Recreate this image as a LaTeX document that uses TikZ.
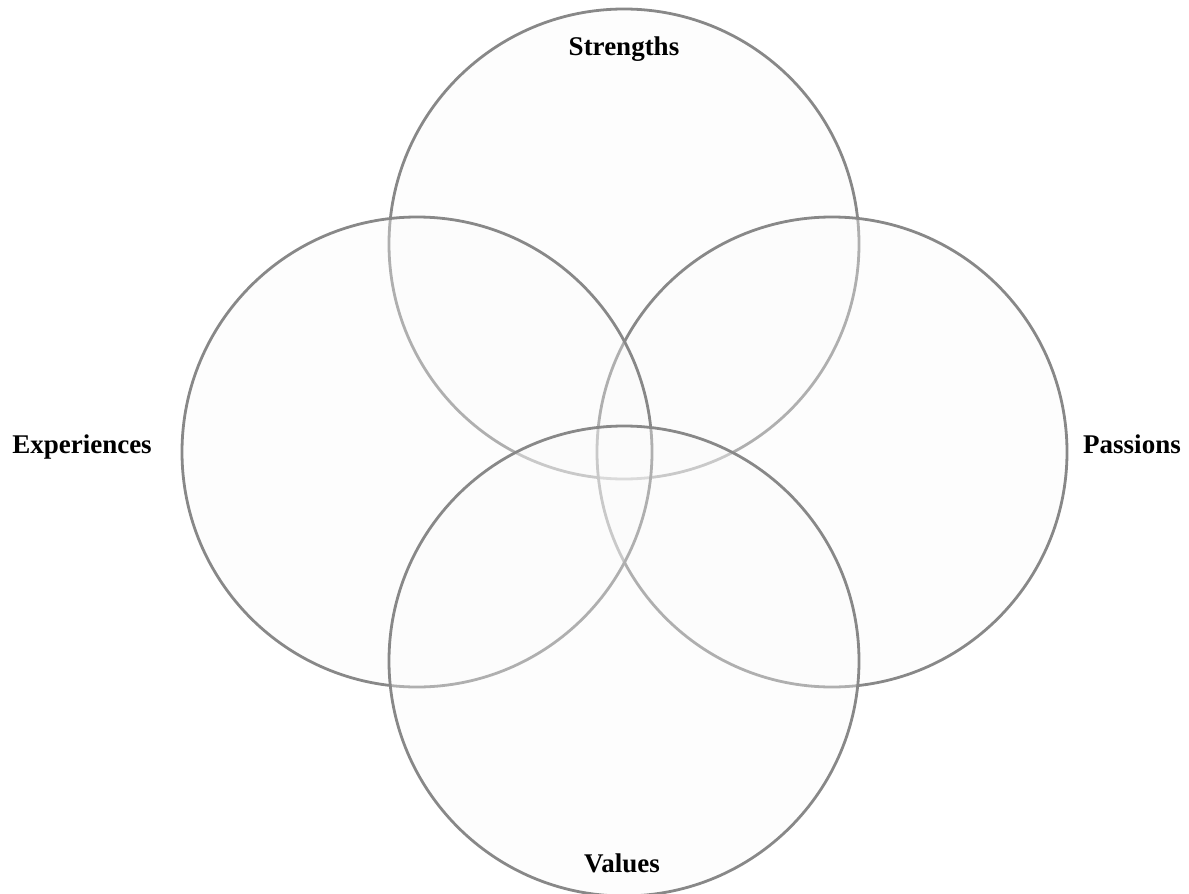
\documentclass[tikz,border=0pt]{standalone}
\usepackage{fontspec}
\setmainfont{Liberation Serif}
\definecolor{ringgray}{HTML}{888888}
\definecolor{ringfill}{HTML}{FAFAFA}
\tikzset{
  ring/.style={circle, inner sep=0pt, minimum size=470pt, line width=2.8pt,
    draw=ringgray, fill=ringfill, fill opacity=0.35},
  lbl/.style={font=\fontsize{27}{30}\selectfont\bfseries, anchor=base, inner sep=0pt}
}
\begin{document}
\begin{tikzpicture}[x=1pt,y=-1pt]
\useasboundingbox (0,0) rectangle (1189,894);
\node[ring] (top) at (624,244) {};
\node[ring] (right) at (832,452) {};
\node[ring] (left) at (417,452) {};
\node[ring] (bottom) at (624,661) {};
\node[lbl] (strengths) at (624,55) {Strengths};
\node[lbl] (experiences) at (82,453) {Experiences};
\node[lbl] (passions) at (1132,453) {Passions};
\node[lbl] (values) at (622,872) {Values};
\end{tikzpicture}
\end{document}
